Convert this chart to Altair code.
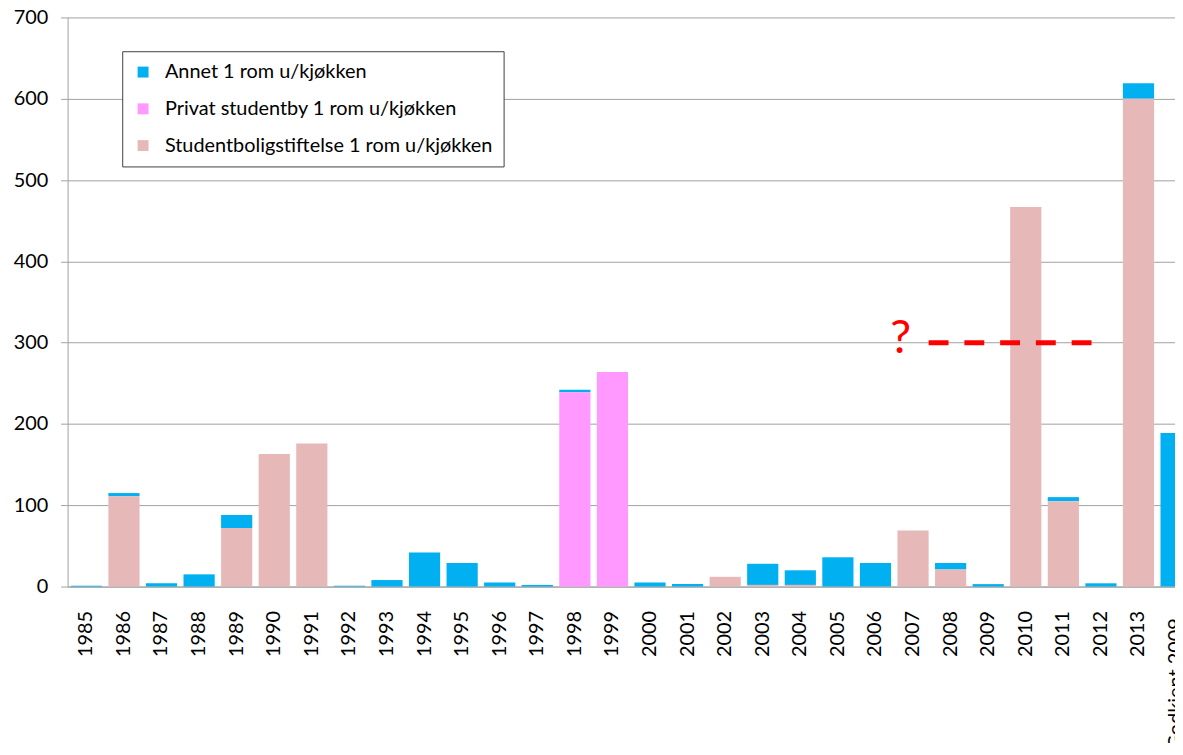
import altair as alt
import pandas as pd

categories = ["1985", "1986", "1987", "1988", "1989", "1990", "1991", "1992", "1993", "1994",
              "1995", "1996", "1997", "1998", "1999", "2000", "2001", "2002", "2003", "2004",
              "2005", "2006", "2007", "2008", "2009", "2010", "2011", "2012", "2013", "Godkient 2009-"]

annet = [1, 4, 4, 15, 16, 0, 0, 1, 8, 42,
         29, 5, 2, 3, 0, 5, 3, 0, 26, 18,
         36, 29, 0, 8, 3, 0, 5, 4, 19, 189]
privat = [0, 0, 0, 0, 0, 0, 0, 0, 0, 0,
          0, 0, 0, 239, 264, 0, 0, 0, 0, 0,
          0, 0, 0, 0, 0, 0, 0, 0, 0, 0]
stiftelse = [0, 111, 0, 0, 72, 163, 176, 0, 0, 0,
             0, 0, 0, 0, 0, 0, 0, 12, 2, 2,
             0, 0, 69, 21, 0, 467, 105, 0, 600, 0]

series_names = ["Annet 1 rom u/kjøkken", "Privat studentby 1 rom u/kjøkken",
                "Studentboligstiftelse 1 rom u/kjøkken"]
series_colors = ["#00B0F0", "#FF99FF", "#E6B9B8"]
stack_order = [2, 1, 0]

y_ticks = [0, 100, 200, 300, 400, 500, 600, 700]
question_level = 300
question_text = "?"

rows = []
for name, vals, o in zip(series_names, [annet, privat, stiftelse], stack_order):
    for c, v in zip(categories, vals):
        rows.append({"kategori": c, "serie": name, "verdi": v, "rekkefolge": o})
df = pd.DataFrame(rows)

FONT = "Lato"

xscale = alt.Scale(domain=categories, range=[0, 1135], paddingInner=0.17, paddingOuter=0.085)
yscale = alt.Scale(domain=[0, 700], nice=False)

bars = alt.Chart(df).mark_bar().encode(
    x=alt.X("kategori:N", sort=categories, scale=xscale,
            axis=alt.Axis(title=None, labelAngle=270, ticks=False, labelPadding=24,
                          domainColor="#A0A0A0", labelFontSize=20, labelFont=FONT,
                          labelColor="#000000", grid=False)),
    y=alt.Y("verdi:Q", stack="zero", scale=yscale,
            axis=alt.Axis(title=None, values=y_ticks, tickSize=7, tickColor="#A0A0A0",
                          domainColor="#A0A0A0", gridColor="#A0A0A0", grid=True,
                          labelPadding=13, labelFontSize=20, labelFont=FONT,
                          labelColor="#000000")),
    color=alt.Color("serie:N",
                    scale=alt.Scale(domain=series_names, range=series_colors),
                    legend=alt.Legend(title=None, orient="none", legendX=55, legendY=34,
                                      fillColor="white", strokeColor="#404040",
                                      padding=11, rowPadding=17, symbolType="square",
                                      symbolSize=121, symbolStrokeWidth=0,
                                      labelFontSize=20, labelFont=FONT, labelOffset=12,
                                      labelColor="#000000", labelLimit=500)),
    order=alt.Order("rekkefolge:Q", sort="ascending"),
)

dash = alt.Chart(pd.DataFrame({"a": [0]})).mark_rule(
    color="#FF0000", strokeWidth=5, strokeDash=[20, 16]
).encode(
    x=alt.X(datum="2007", bandPosition=1, scale=xscale),
    x2=alt.X2(datum="2012", bandPosition=0.25),
    y=alt.Y(datum=question_level, scale=yscale),
)

qmark = alt.Chart(pd.DataFrame({"a": [0]})).mark_text(
    text=question_text, color="#FF0000", fontSize=47, font=FONT,
    baseline="alphabetic", align="center", dy=10
).encode(
    x=alt.X(datum="2007", bandPosition=0.1, scale=xscale),
    y=alt.Y(datum=question_level, scale=yscale),
)

chart = alt.layer(bars, dash, qmark).properties(
    width=1115, height=573,
    autosize=alt.AutoSizeParams(type="none"),
    padding={"left": 60, "top": 7, "right": 0, "bottom": 155},
).configure_view(strokeWidth=0)

chart.save("out.html", embed_options={"renderer": "svg", "actions": False})
